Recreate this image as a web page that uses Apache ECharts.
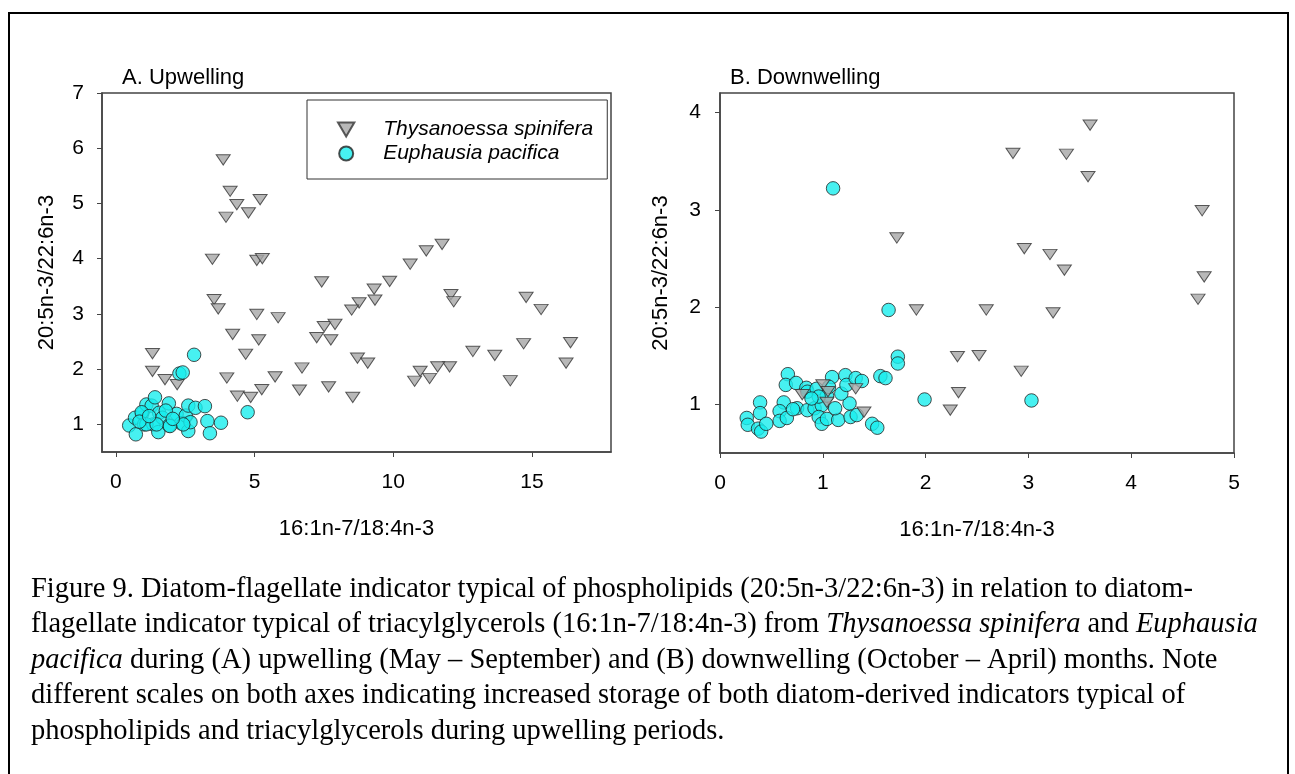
<!DOCTYPE html>
<html>
<head>
<meta charset="utf-8">
<script src="https://cdn.jsdelivr.net/npm/echarts@6/dist/echarts.min.js"></script>
<style>
  html, body { margin: 0; padding: 0; background: #fff; }
  #chart { width: 1295px; height: 774px; }
</style>
</head>
<body>
<div id="chart"></div>
<script>
// Species names (legend / series)
const speciesT = 'Thysanoessa spinifera';
const speciesE = 'Euphausia pacifica';

// Axis labels
const xAxisTitle = '16:1n-7/18:4n-3';
const yAxisTitle = '20:5n-3/22:6n-3';
const panelTitles = ['A. Upwelling', 'B. Downwelling'];

// Tick values
const ticksUpX = [0, 5, 10, 15];
const ticksUpY = [1, 2, 3, 4, 5, 6, 7];
const ticksDownX = [0, 1, 2, 3, 4, 5];
const ticksDownY = [1, 2, 3, 4];

// A. Upwelling — [16:1n-7/18:4n-3, 20:5n-3/22:6n-3]
const upThysanoessa = [
  [3.87, 5.79], [4.12, 5.22], [4.36, 4.98], [5.20, 5.07], [4.78, 4.83], [3.97, 4.75],
  [3.48, 3.99], [5.08, 3.97], [5.28, 4.00], [7.42, 3.58], [9.87, 3.59], [9.31, 3.45],
  [9.34, 3.25], [8.77, 3.20], [8.50, 3.07], [3.54, 3.26], [3.69, 3.09], [5.08, 2.99],
  [5.85, 2.93], [7.51, 2.77], [7.90, 2.81], [7.24, 2.57], [7.75, 2.53], [4.21, 2.63],
  [5.15, 2.53], [4.68, 2.27], [1.32, 2.28], [8.71, 2.20], [9.08, 2.11], [1.32, 1.96],
  [1.77, 1.81], [2.21, 1.72], [4.00, 1.84], [6.71, 2.02], [5.74, 1.86], [5.26, 1.63],
  [4.38, 1.51], [4.86, 1.49], [6.62, 1.62], [7.67, 1.68], [8.54, 1.49], [11.76, 4.26],
  [11.19, 4.14], [10.61, 3.90], [12.08, 3.35], [12.18, 3.22], [14.79, 3.30], [15.33, 3.08],
  [12.87, 2.32], [13.66, 2.25], [14.70, 2.46], [16.39, 2.48], [16.23, 2.11], [14.22, 1.79],
  [12.03, 2.04], [11.60, 2.04], [10.97, 1.96], [11.31, 1.83], [10.77, 1.78],
  [2.55, 1.05], [1.00, 1.15]
];
const upEuphausia = [
  [0.48, 0.98], [0.72, 0.82], [0.69, 1.12], [0.95, 1.20], [1.02, 1.00], [1.10, 1.36],
  [1.29, 1.34], [1.35, 1.00], [1.41, 1.49], [1.53, 0.86], [1.56, 1.21], [1.68, 1.12],
  [1.91, 1.38], [1.92, 0.98], [2.19, 1.19], [2.35, 1.02], [2.52, 1.16], [2.61, 0.88],
  [2.61, 1.34], [2.69, 1.04], [2.87, 1.30], [3.21, 1.33], [3.30, 1.06], [3.39, 0.84],
  [3.79, 1.03], [2.29, 1.92], [2.41, 1.94], [2.82, 2.26], [4.75, 1.22], [0.93, 1.22],
  [1.10, 1.00], [1.47, 1.00], [2.43, 1.00], [1.95, 0.97], [0.85, 1.05], [1.20, 1.15],
  [1.80, 1.25], [2.05, 1.10]
];

// B. Downwelling
const downThysanoessa = [
  [1.72, 2.71], [1.91, 1.97], [2.31, 1.49], [2.32, 1.12], [2.24, 0.94], [1.00, 1.20],
  [0.80, 1.10], [1.05, 1.13], [1.04, 1.02], [1.32, 1.16], [1.40, 0.92], [3.60, 3.87],
  [2.85, 3.58], [3.37, 3.57], [3.58, 3.34], [4.69, 2.99], [2.96, 2.60], [3.21, 2.54],
  [3.35, 2.38], [4.71, 2.31], [4.65, 2.08], [2.59, 1.97], [3.24, 1.94], [2.52, 1.50],
  [2.93, 1.34]
];
const downEuphausia = [
  [1.10, 3.22], [1.64, 1.97], [1.73, 1.49], [1.73, 1.42], [1.99, 1.05], [1.56, 1.29],
  [1.61, 1.27], [1.48, 0.80], [1.53, 0.76], [0.66, 1.31], [0.64, 1.20], [0.74, 1.22],
  [0.84, 1.17], [0.62, 1.02], [0.58, 0.93], [0.58, 0.83], [0.65, 0.86], [0.75, 0.96],
  [0.71, 0.95], [0.39, 1.02], [0.39, 0.91], [0.26, 0.86], [0.27, 0.79], [0.37, 0.75],
  [0.40, 0.72], [0.45, 0.80], [0.85, 0.94], [0.92, 0.96], [0.99, 0.99], [0.96, 0.87],
  [0.99, 0.80], [1.04, 0.85], [1.15, 0.84], [1.12, 0.96], [1.26, 1.01], [1.27, 0.87],
  [1.33, 0.89], [1.18, 1.11], [1.09, 1.28], [1.22, 1.30], [1.23, 1.20], [1.32, 1.27],
  [1.38, 1.24], [0.85, 1.13], [0.94, 1.16], [1.04, 1.09], [0.96, 1.08], [0.89, 1.06],
  [1.06, 1.18], [3.03, 1.04]
];

const SANS = '"Liberation Sans", Arial, sans-serif';
const SERIF = '"Liberation Serif", "Times New Roman", serif';
const frameColor = '#444';

function axis(gridIndex, min, max, ticks, title, gap, labelMargin) {
  return {
    type: 'value', gridIndex, min, max,
    name: title, nameLocation: 'middle', nameGap: gap,
    nameTextStyle: { fontFamily: SANS, fontSize: 22, color: '#000' },
    splitLine: { show: false },
    axisLine: { show: true, onZero: false, lineStyle: { color: frameColor, width: 1.5 } },
    axisTick: { show: true, length: 5, customValues: ticks, lineStyle: { color: frameColor, width: 1 } },
    axisLabel: { customValues: ticks, fontFamily: SANS, fontSize: 21, color: '#000', margin: labelMargin }
  };
}

// downward-pointing triangle marker
const downTriangle = 'path://M0,0 L14,0 L7,12 Z';
const triStyle = { color: '#a6a6a6', borderColor: '#333', borderWidth: 1 };
const dotStyle = { color: '#19eeee', borderColor: '#222', borderWidth: 1 };

function triSeries(idx, data, z) {
  return { name: speciesT, type: 'scatter', xAxisIndex: idx, yAxisIndex: idx, data,
    symbol: downTriangle, symbolSize: [14, 12], symbolKeepAspect: true, itemStyle: triStyle, z };
}
function dotSeries(idx, data, z) {
  return { name: speciesE, type: 'scatter', xAxisIndex: idx, yAxisIndex: idx, data,
    symbol: 'circle', symbolSize: 13.5, itemStyle: dotStyle, z };
}

const captionLines = [
  [{ t: 'Figure 9. Diatom-flagellate indicator typical of phospholipids (20:5n-3/22:6n-3) in relation to diatom-' }],
  [{ t: 'flagellate indicator typical of triacylglycerols (16:1n-7/18:4n-3) from ' }, { t: 'Thysanoessa spinifera', i: 1 }, { t: ' and ' }, { t: 'Euphausia', i: 1 }],
  [{ t: 'pacifica', i: 1 }, { t: ' during (A) upwelling (May \u2013 September) and (B) downwelling (October \u2013 April) months. Note' }],
  [{ t: 'different scales on both axes indicating increased storage of both diatom-derived indicators typical of' }],
  [{ t: 'phospholipids and triacylglycerols during upwelling periods.' }]
];

const captionGraphics = captionLines.map((parts, k) => ({
  type: 'text', left: 31, top: 575 + k * 35.5,
  style: {
    text: parts.map(p => '{' + (p.i ? 'it' : 'rm') + '|' + p.t + '}').join(''),
    rich: {
      rm: { fontFamily: SERIF, fontSize: 28.5, fill: '#000' },
      it: { fontFamily: SERIF, fontSize: 28.5, fontStyle: 'italic', fill: '#000' }
    }
  }
}));

const chart = echarts.init(document.getElementById('chart'), null, { renderer: 'canvas' });
chart.setOption({
  animation: false,
  backgroundColor: '#fff',
  title: [
    { text: panelTitles[0], left: 117, top: 62, textStyle: { fontFamily: SANS, fontSize: 22, fontWeight: 'normal', color: '#000' } },
    { text: panelTitles[1], left: 725, top: 62, textStyle: { fontFamily: SANS, fontSize: 22, fontWeight: 'normal', color: '#000' } }
  ],
  grid: [
    { left: 102, top: 93, width: 509, height: 359, show: true, borderColor: frameColor, borderWidth: 1.5, backgroundColor: 'transparent' },
    { left: 720, top: 93, width: 514, height: 360, show: true, borderColor: frameColor, borderWidth: 1.5, backgroundColor: 'transparent' }
  ],
  xAxis: [
    axis(0, -0.5, 17.85, ticksUpX, xAxisTitle, 66, 20),
    axis(1, 0, 5, ticksDownX, xAxisTitle, 66, 20)
  ],
  yAxis: [
    axis(0, 0.5, 7, ticksUpY, yAxisTitle, 44, 18),
    axis(1, 0.5, 4.2, ticksDownY, yAxisTitle, 48, 19)
  ],
  legend: {
    data: [speciesT, speciesE],
    orient: 'vertical', left: 307, top: 100,
    itemWidth: 64, itemHeight: 14, itemGap: 3,
    symbolKeepAspect: true,
    padding: [19, 14, 15, 30],
    borderColor: '#333', borderWidth: 1,
    textStyle: { fontFamily: SANS, fontSize: 21, fontStyle: 'italic', color: '#000' }
  },
  series: [
    triSeries(0, upThysanoessa, 2),
    dotSeries(0, upEuphausia, 3),
    dotSeries(1, downEuphausia, 2),
    triSeries(1, downThysanoessa, 3)
  ],
  graphic: [
    { type: 'polyline', silent: true, shape: { points: [[9, 774], [9, 13], [1288, 13], [1288, 774]] },
      style: { stroke: '#000', lineWidth: 2, fill: null } }
  ].concat(captionGraphics)
});
</script>
</body>
</html>
